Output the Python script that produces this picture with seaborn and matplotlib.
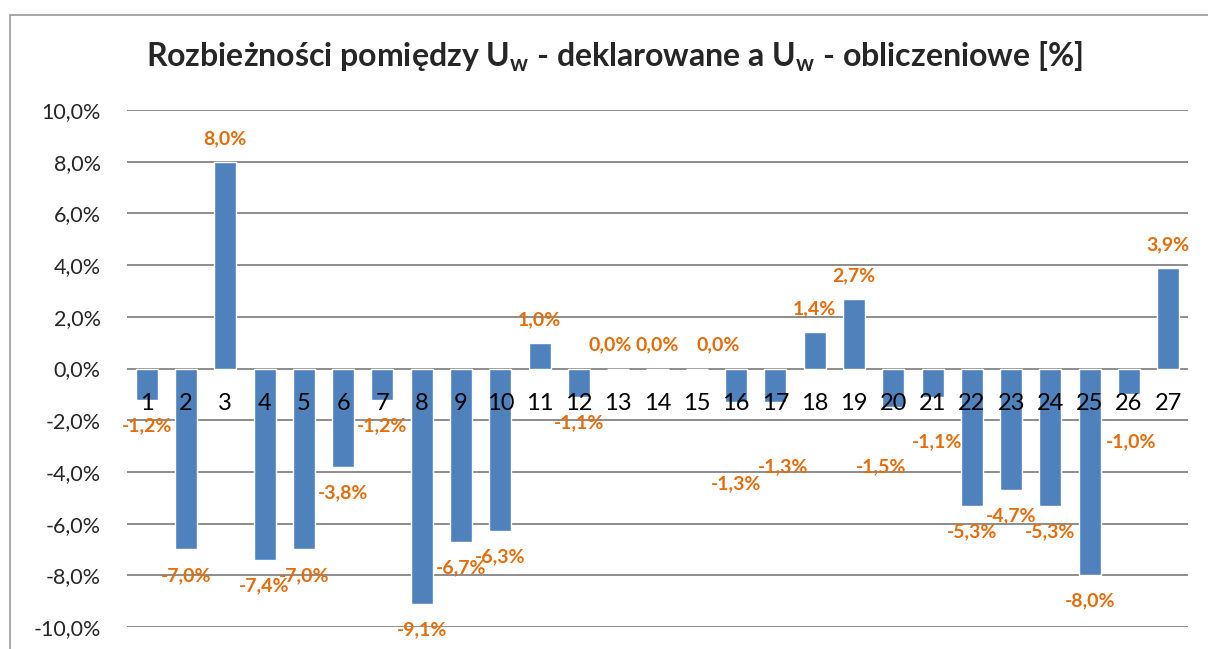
import matplotlib
matplotlib.use("Agg")
import seaborn as sns
import pandas as pd
from matplotlib import pyplot as plt
from matplotlib.patches import Rectangle

# data (values in %)
categories = [str(i) for i in range(1, 28)]
values = [-1.2, -7.0, 8.0, -7.4, -7.0, -3.8, -1.2, -9.1, -6.7, -6.3,
          1.0, -1.1, 0.0, 0.0, 0.0, -1.3, -1.3, 1.4, 2.7, -1.5,
          -1.1, -5.3, -4.7, -5.3, -8.0, -1.0, 3.9]
y_ticks = [-10, -8, -6, -4, -2, 0, 2, 4, 6, 8, 10]
title = "Rozbieżności pomiędzy U$_\\mathregular{w}$ - deklarowane a U$_\\mathregular{w}$ - obliczeniowe [%]"

# data labels that were dragged by hand in the original (category -> dx, y)
label_moves = {"13": (-0.2, None), "15": (0.55, None), "16": (0.0, -4.45),
               "17": (0.2, -3.8), "20": (-0.3, -3.8), "21": (0.12, -2.85),
               "26": (0.05, -2.85)}

BAR = "#4F81BD"
LABEL = "#E46C0A"
GRID = "#8C8C8C"


def pct(v):
    return f"{v:.1f}%".replace(".", ",")


sns.set_theme(style="white")
plt.rcParams["font.family"] = ["Lato", "DejaVu Sans"]
plt.rcParams["mathtext.fontset"] = "custom"
plt.rcParams["mathtext.rm"] = "Lato:bold"

df = pd.DataFrame({"nr": categories, "val": values})

fig = plt.figure(figsize=(12.08, 6.49), dpi=100)
ax = fig.add_axes([127 / 1208, 1 - 627 / 649, (1188 - 127) / 1208, (627 - 110) / 649])

for t in y_ticks:
    ax.axhline(t, color=GRID, lw=1.4, zorder=0)

sns.barplot(data=df, x="nr", y="val", order=categories, color=BAR,
            width=0.56, saturation=1, ax=ax, zorder=2)

ax.set_ylim(-10, 10)
ax.set_xlim(-0.5, len(categories) - 0.5)
ax.set_yticks(y_ticks)
ax.set_yticklabels([pct(t) for t in y_ticks], fontsize=15.5)
ax.tick_params(axis="y", length=0, pad=19)
ax.set_xticks([])
ax.set_xlabel("")
ax.set_ylabel("")
for s in ax.spines.values():
    s.set_visible(False)

# category labels sit just below the zero line, over the bars (Excel style)
for i, c in enumerate(categories):
    ax.text(i, -1.35, c, ha="center", va="center", fontsize=17, color="black", zorder=3)

# data labels at the outer end of each bar
for i, (c, v) in enumerate(zip(categories, values)):
    y = v + (0.9 if v >= 0 else -1.0)
    dx, ny = label_moves.get(c, (0.0, None))
    if ny is not None:
        y = ny
    ax.text(i + dx, y, pct(v), ha="center", va="center", fontsize=14,
            fontweight="bold", color=LABEL, zorder=4)

fig.text(614 / 1208, 1 - 57 / 649, title, ha="center", va="center",
         fontsize=23, fontweight="bold")

# chart area border (cropped on the right and bottom)
fig.patches.append(Rectangle((10 / 1208, -0.1), 1.2, 1 - 15 / 649 + 0.1,
                             transform=fig.transFigure, fill=False,
                             edgecolor="#A0A0A0", lw=1.3))

fig.savefig("out.png", dpi=100)
